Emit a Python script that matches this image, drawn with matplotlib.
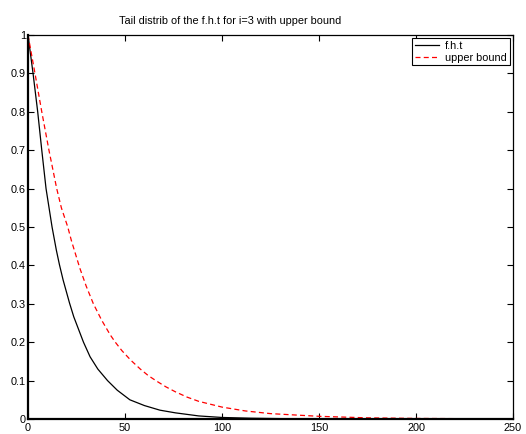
import matplotlib
matplotlib.use("Agg")
import matplotlib.pyplot as plt
from matplotlib.ticker import FuncFormatter

# values
fht_x = [0, 2.6, 5, 7.1, 9.3, 12.4, 14.6, 16.2, 18.1, 21.4, 23.6, 28.6, 32, 36, 41,
         46, 52.5, 60, 68, 76, 88, 100, 115, 130, 150, 200, 250]
fht_y = [1, 0.9, 0.8, 0.7, 0.6, 0.5, 0.44, 0.402, 0.362, 0.302, 0.266, 0.2, 0.162, 0.13, 0.1,
         0.075, 0.05, 0.035, 0.023, 0.016, 0.008, 0.004, 0.002, 0.001, 0.0004, 0, 0]

bound_x = [0, 3.6, 7.1, 10.8, 14.8, 17.2, 20.5, 22.4, 26.7, 30, 33.7, 38, 42.4, 45, 48.4,
           53, 57.9, 62, 66.5, 71, 75.9, 82, 88, 100, 112, 125, 150, 175, 200, 250]
bound_y = [1, 0.9, 0.8, 0.7, 0.6, 0.55, 0.5, 0.464, 0.393, 0.346, 0.3, 0.257, 0.219, 0.2, 0.178,
           0.153, 0.13, 0.113, 0.098, 0.084, 0.071, 0.057, 0.046, 0.031, 0.021, 0.014, 0.007,
           0.003, 0.0015, 0.0002]

x_ticks = [0, 50, 100, 150, 200, 250]
y_ticks = [0, 0.1, 0.2, 0.3, 0.4, 0.5, 0.6, 0.7, 0.8, 0.9, 1]

plt.rcParams["font.family"] = ["Liberation Sans", "DejaVu Sans"]
fs = 7.8

fig = plt.figure(figsize=(5.26, 4.34), dpi=100)
ax = fig.add_axes([28 / 526, 1 - 419 / 434, 485 / 526, 384 / 434])

ax.plot(fht_x, fht_y, color="black", lw=0.9, label="f.h.t")
ax.plot(bound_x, bound_y, color="red", lw=0.9, dashes=(4, 2.6), label="upper bound")

ax.set_xlim(0, 250)
ax.set_ylim(0, 1)
ax.set_xticks(x_ticks)
ax.set_yticks(y_ticks)
ax.xaxis.set_major_formatter(FuncFormatter(lambda v, p: "%g" % v))
ax.yaxis.set_major_formatter(FuncFormatter(lambda v, p: "%g" % v))
ax.tick_params(direction="in", length=4, width=0.8, labelsize=fs,
               top=True, right=True)
ax.tick_params(axis="y", pad=1.5)
ax.tick_params(axis="x", pad=3)
# left/bottom axis lines are heavier in the original
ax.spines["left"].set_linewidth(1.6)
ax.spines["bottom"].set_linewidth(1.6)
ax.spines["top"].set_linewidth(0.9)
ax.spines["right"].set_linewidth(0.9)

# title sits left of the axes centre in the original
fig.text(230 / 526, 1 - 24.5 / 434, "Tail distrib of the f.h.t for i=3 with upper bound",
         fontsize=fs, ha="center", va="baseline")

leg = ax.legend(loc="upper right", fontsize=fs, fancybox=False, framealpha=1,
                edgecolor="black", handlelength=2.2, borderaxespad=0.3,
                borderpad=0.25, labelspacing=0.15, handletextpad=0.6)
leg.get_frame().set_linewidth(0.8)

fig.savefig("out.png", dpi=100)
